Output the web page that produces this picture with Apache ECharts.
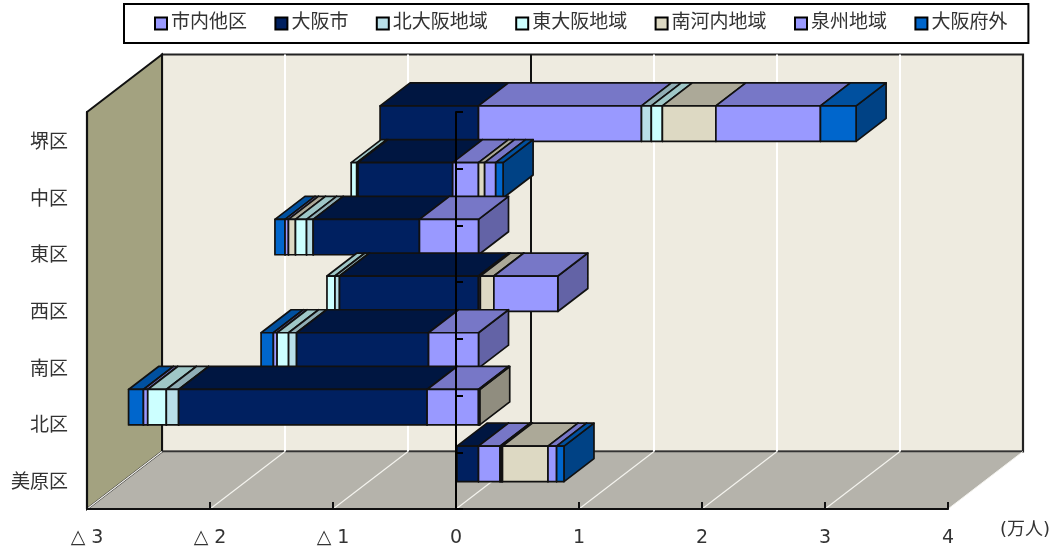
<!DOCTYPE html>
<html><head><meta charset="utf-8">
<style>html,body{margin:0;padding:0;background:#fff}#c{width:1059px;height:550px}</style>
<script src="https://cdn.jsdelivr.net/npm/echarts@6/dist/echarts.min.js"></script>
</head><body><div id="c"></div>
<script>
const categories = ['堺区','中区','東区','西区','南区','北区','美原区'];
const xTicks = {'-3':'△ 3','-2':'△ 2','-1':'△ 1','0':'0','1':'1','2':'2','3':'3','4':'4'};
const seriesNames = ['市内他区','大阪市','北大阪地域','東大阪地域','南河内地域','泉州地域','大阪府外'];
const seriesColors = ['#9999ff','#002060','#b8dfe8','#ccffff','#ddd9c3','#9999ff','#0066cc'];
const shiNai    = [1.325,-0.21,-0.48,0.015,-0.406,-0.418,0.175];
const osakaShi  = [-0.80,-0.77,-0.864,-1.13,-1.073,-2.02,-0.175];
const kitaOsaka = [0.08,-0.01,-0.054,-0.037,-0.065,-0.10,0.01];
const higashi   = [0.09,-0.045,-0.09,-0.065,-0.0935,-0.151,0.01];
const minami    = [0.435,0.05,-0.057,0.11,0,0.01,0.37];
const senshu    = [0.85,0.09,-0.028,0.52,-0.03,-0.035,0.07];
const fugai     = [0.29,0.06,-0.082,0,-0.10,-0.121,0.06];
const allValues = [shiNai,osakaShi,kitaOsaka,higashi,minami,senshu,fugai];

const DX=75, DY=-57.5, T0=0.3, T1=0.7, FONT='"DejaVu Sans","Noto Sans CJK JP",sans-serif';
function shade(hex,f){const n=parseInt(hex.slice(1),16);
  return 'rgb('+[(n>>16)&255,(n>>8)&255,n&255].map(c=>Math.round(c*f)).join(',')+')';}

const stackRows = allValues.map(()=>[]);
categories.forEach((c,ci)=>{let pos=0,neg=0;
  allValues.forEach((arr,si)=>{const v=arr[ci];if(!v)return;
    if(v>0){stackRows[si].push([ci,pos,pos+v,si]);pos+=v;}
    else{stackRows[si].push([ci,neg,neg+v,si]);neg+=v;}});});

function renderBar(params,api){
  const ci=api.value(0),a=api.value(1),b=api.value(2),si=api.value(3);
  const lo=Math.min(a,b),hi=Math.max(a,b);
  const band=api.size([0,1])[1],h=band/1.6/2;
  const L=api.coord([lo,ci]),R=api.coord([hi,ci]);
  const [fx,fy]=[DX*T0,DY*T0],[bx,by]=[DX*T1,DY*T1];
  const x0=L[0]+fx,x1=R[0]+fx,y0=L[1]+fy-h+0.5,y1=L[1]+fy+h+0.5;
  const ox=bx-fx,oy=by-fy;
  const col=seriesColors[si];
  const neg=(a<0||b<0);
  const z=(ci+1)*100+(neg?(10-si):(20+si))*3;
  const ls={stroke:'#111',lineWidth:1.7,lineJoin:'round'};
  const poly=(pts,fill,dz)=>({type:'polygon',z2:z+dz,shape:{points:pts},style:Object.assign({fill},ls)});
  return {type:'group',children:[
    poly([[x1,y0],[x1+ox,y0+oy],[x1+ox,y1+oy],[x1,y1]],shade(col,0.65),0),
    poly([[x0,y0],[x0+ox,y0+oy],[x1+ox,y0+oy],[x1,y0]],shade(col,si===1?0.68:0.78),1),
    poly([[x0,y0],[x1,y0],[x1,y1],[x0,y1]],col,2)
  ]};
}

function renderRoom(params,api){
  const cs=params.coordSys,l=cs.x,r=cs.x+cs.width,t=cs.y,b=cs.y+cs.height;
  const kids=[];
  const line=(x1,y1,x2,y2,stroke,w)=>kids.push({type:'line',z2:5,shape:{x1,y1,x2,y2},style:{stroke,lineWidth:w}});
  kids.push({type:'polygon',z2:1,shape:{points:[[l+DX,t+DY],[r+DX,t+DY],[r+DX,b+DY],[l+DX,b+DY]]},style:{fill:'#eeebe0',stroke:'#222',lineWidth:2.2}});
  kids.push({type:'polygon',z2:2,shape:{points:[[l,b],[r,b],[r+DX,b+DY],[l+DX,b+DY]]},style:{fill:'#b5b3ab',stroke:null}});
  line(l+DX,b+DY,r+DX,b+DY,'#333',1.5);
  kids.push({type:'polygon',z2:3,shape:{points:[[l,t],[l+DX,t+DY],[l+DX,b+DY],[l,b]]},style:{fill:'#a3a280',stroke:'#111',lineWidth:2}});
  Object.keys(xTicks).map(Number).forEach(v=>{
    const x=api.coord([v,0])[0];
    if(v>-3&&v<4) line(x+DX,t+DY,x+DX,b+DY,v===0?'#111':'#fff',2);
    line(x,b,x+DX,b+DY,'#f4f3ee',v===4?1:1.2);
  });
  return {type:'group',children:kids};
}

const chart=echarts.init(document.getElementById('c'),null,{renderer:'canvas'});
const labelStyle={color:'#333',fontFamily:FONT};
chart.setOption({
  animation:false,backgroundColor:'#fff',
  title:{text:'(万人)',left:1000,top:521,padding:0,textStyle:{color:'#333',fontSize:18,fontWeight:'normal',fontFamily:FONT}},
  legend:{show:true,left:124,top:4,data:seriesNames.map(name=>({name,icon:'rect'})),
    backgroundColor:'#fff',borderColor:'#000',borderWidth:2,padding:[10,21,10,30],
    itemGap:27.4,itemWidth:12,itemHeight:12,
    textStyle:{color:'#333',fontSize:19,fontFamily:FONT,padding:[0,0,0,-1]},selectedMode:false},
  grid:{left:87,right:111,top:112,bottom:41,containLabel:false},
  xAxis:{type:'value',min:-3,max:4,interval:1,position:'bottom',z:8,
    axisLine:{show:true,onZero:false,lineStyle:{color:'#111',width:2.2}},
    axisTick:{show:true,inside:true,length:7,lineStyle:{color:'#111',width:2}},
    splitLine:{show:false},
    axisLabel:Object.assign({fontSize:19,margin:20,showMinLabel:true,showMaxLabel:true,formatter:v=>xTicks[String(v)]},labelStyle)},
  yAxis:[
    {type:'category',inverse:true,data:categories,position:'left',z:8,
     axisLine:{show:true,onZero:false,lineStyle:{color:'#111',width:2.2}},axisTick:{show:false},
     axisLabel:Object.assign({fontSize:19,margin:19,formatter:v=>'{a|'+v+'}',
       rich:{a:{fontSize:19,color:'#333',fontFamily:FONT,padding:[5,0,0,0]}}},labelStyle)},
    {type:'category',inverse:true,data:categories,position:'left',z:9,
     axisLine:{show:true,onZero:true,lineStyle:{color:'#000',width:2}},
     axisTick:{show:true,inside:true,length:7,lineStyle:{color:'#000',width:2}},
     axisLabel:{show:false}}
  ],
  series:[
    {type:'custom',name:'room',coordinateSystem:'cartesian2d',z:1,silent:true,data:[[0,0]],renderItem:renderRoom,clip:false},
    ...seriesNames.map((name,si)=>({
      type:'custom',name,coordinateSystem:'cartesian2d',xAxisIndex:0,yAxisIndex:0,z:2,clip:false,
      itemStyle:{color:seriesColors[si],borderColor:'#000',borderWidth:2},
      encode:{x:[1,2],y:0},data:stackRows[si],renderItem:renderBar}))
  ]
});
</script></body></html>
